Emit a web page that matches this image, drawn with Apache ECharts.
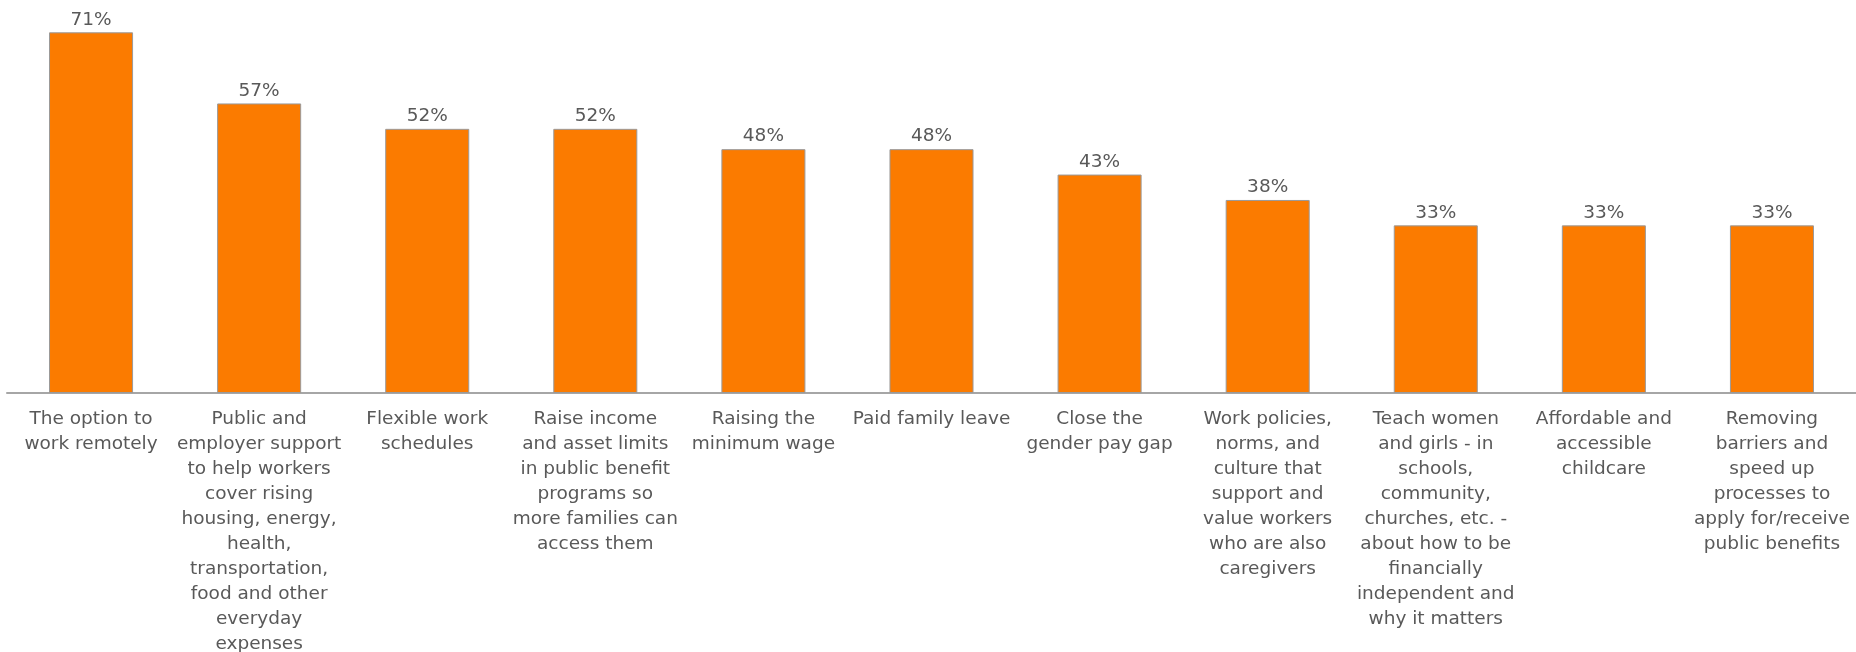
<!DOCTYPE html>
<html>
<head>
<meta charset="utf-8">
<script src="https://cdn.jsdelivr.net/npm/echarts@6/dist/echarts.min.js"></script>
<style>
  html, body { margin: 0; padding: 0; background: #ffffff; }
  #chart { width: 1856px; height: 652px; }
</style>
</head>
<body>
<div id="chart"></div>
<script>
// Policy options (wrapped as they appear under each bar)
const categories = [
  'The option to\nwork remotely',
  'Public and\nemployer support\nto help workers\ncover rising\nhousing, energy,\nhealth,\ntransportation,\nfood and other\neveryday\nexpenses',
  'Flexible work\nschedules',
  'Raise income\nand asset limits\nin public benefit\nprograms so\nmore families can\naccess them',
  'Raising the\nminimum wage',
  'Paid family leave',
  'Close the\ngender pay gap',
  'Work policies,\nnorms, and\nculture that\nsupport and\nvalue workers\nwho are also\ncaregivers',
  'Teach women\nand girls - in\nschools,\ncommunity,\nchurches, etc. -\nabout how to be\nfinancially\nindependent and\nwhy it matters',
  'Affordable and\naccessible\nchildcare',
  'Removing\nbarriers and\nspeed up\nprocesses to\napply for/receive\npublic benefits'
];

// Share of respondents (%)
const values = [71, 57, 52, 52, 48, 48, 43, 38, 33, 33, 33];

const chart = echarts.init(document.getElementById('chart'), null, { renderer: 'canvas' });

chart.setOption({
  animation: false,
  grid: {
    left: 7, right: 0, top: 12, bottom: 259,
    containLabel: false,
    outerBoundsMode: 'none'
  },
  xAxis: {
    type: 'category',
    data: categories,
    axisLine: { show: true, lineStyle: { color: '#a6a6a6', width: 2 } },
    axisTick: { show: false },
    axisLabel: {
      interval: 0,
      margin: 14,
      color: '#595959',
      fontFamily: 'DejaVu Sans',
      fontSize: 18.5,
      lineHeight: 25,
      align: 'center'
    }
  },
  yAxis: {
    type: 'value',
    min: 0,
    max: 75,
    show: false,
    splitLine: { show: false }
  },
  series: [{
    type: 'bar',
    data: values,
    barWidth: '50%',
    itemStyle: { color: '#fb7b00', borderColor: '#9a9a9a', borderWidth: 1 },
    label: {
      show: true,
      position: 'top',
      distance: 3,
      formatter: p => p.value + '%',
      color: '#595959',
      fontFamily: 'DejaVu Sans',
      fontSize: 18.5
    }
  }]
});
</script>
</body>
</html>
